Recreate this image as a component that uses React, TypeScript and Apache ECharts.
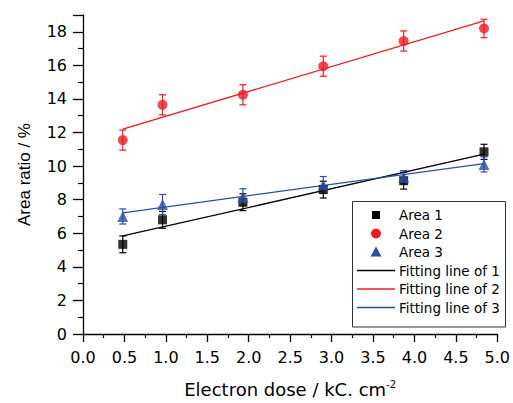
import React, { useEffect, useRef } from "react";
import * as echarts from "echarts";

const doses = [0.48, 0.96, 1.93, 2.9, 3.87, 4.84];
const area1 = [5.34, 6.8, 7.85, 8.6, 9.13, 10.85];
const area1Err = [0.5, 0.5, 0.5, 0.5, 0.5, 0.45];
const area2 = [11.55, 13.65, 14.25, 15.95, 17.45, 18.2];
const area2Err = [0.6, 0.6, 0.6, 0.6, 0.6, 0.55];
const area3 = [7.0, 7.71, 8.15, 8.88, 9.33, 10.1];
const area3Err = [0.45, 0.6, 0.5, 0.5, 0.4, 0.45];
const fitX = [0.48, 4.84];
const fit1 = [5.84, 10.71];
const fit2 = [12.2, 18.65];
const fit3 = [7.22, 10.15];

const legendNames = ["Area 1", "Area 2", "Area 3", "Fitting line of 1", "Fitting line of 2", "Fitting line of 3"];

const BLACK = "#000000";
const RED = "#ec1c24";
const BLUE = "#2a4ea6";
const FONT = "Liberation Sans, Arial, sans-serif";
const WIDE = "DejaVu Sans, sans-serif";

function errData(vals: number[], errs: number[]) {
  return doses.map((x, i) => [x, vals[i] - errs[i], vals[i] + errs[i]]);
}

function errSeries(vals: number[], errs: number[], color: string) {
  return {
    type: "custom",
    data: errData(vals, errs),
    encode: { x: 0, y: [1, 2] },
    z: 3,
    renderItem: (params: any, api: any) => {
      const lo = api.coord([api.value(0), api.value(1)]);
      const hi = api.coord([api.value(0), api.value(2)]);
      const w = 3.5;
      const style = { stroke: color, lineWidth: 1.2 };
      return {
        type: "group",
        children: [
          { type: "line", shape: { x1: lo[0], y1: lo[1], x2: hi[0], y2: hi[1] }, style },
          { type: "line", shape: { x1: lo[0] - w, y1: lo[1], x2: lo[0] + w, y2: lo[1] }, style },
          { type: "line", shape: { x1: hi[0] - w, y1: hi[1], x2: hi[0] + w, y2: hi[1] }, style },
        ],
      };
    },
  };
}

function pts(vals: number[]) {
  return doses.map((x, i) => [x, vals[i]]);
}
function fitPts(vals: number[]) {
  return fitX.map((x, i) => [x, vals[i]]);
}

export default function App() {
  const ref = useRef<HTMLDivElement>(null);
  useEffect(() => {
    if (!ref.current) return;
    const chart = echarts.init(ref.current, null, { renderer: "svg" });

    const lx = 376;
    const rowsY = [215, 233.5, 252, 270.5, 289, 307.5];
    const colors = [BLACK, RED, BLUE, BLACK, RED, BLUE];
    const legendChildren: any[] = [
      {
        type: "rect",
        shape: { x: 352.5, y: 201.5, width: 153, height: 125.5 },
        style: { fill: "#fff", stroke: "#333", lineWidth: 1 },
      },
    ];
    legendNames.forEach((name, i) => {
      const y = rowsY[i];
      if (i === 0) {
        legendChildren.push({ type: "rect", shape: { x: lx - 4, y: y - 4, width: 8, height: 8 }, style: { fill: BLACK } });
      } else if (i === 1) {
        legendChildren.push({ type: "circle", shape: { cx: lx, cy: y, r: 5 }, style: { fill: RED } });
      } else if (i === 2) {
        legendChildren.push({
          type: "polygon",
          shape: { points: [[lx, y - 5.5], [lx + 5.5, y + 4.5], [lx - 5.5, y + 4.5]] },
          style: { fill: BLUE },
        });
      } else {
        legendChildren.push({
          type: "line",
          shape: { x1: 357, y1: y, x2: 395, y2: y },
          style: { stroke: colors[i], lineWidth: 1.3 },
        });
      }
      legendChildren.push({
        type: "text",
        x: 399,
        y: y,
        style: { text: name, fill: "#000", font: `13.5px ${WIDE}`, textVerticalAlign: "middle", textAlign: "left" },
      });
    });

    chart.setOption({
      animation: false,
      backgroundColor: "#fff",
      textStyle: { fontFamily: FONT },
      grid: { left: 83, right: 14, top: 15, bottom: 67, containLabel: false },
      xAxis: {
        type: "value",
        min: 0,
        max: 5,
        interval: 0.5,
        name: "{a|Electron dose / kC. cm}{s|-2}",
        nameLocation: "middle",
        nameGap: 45,
        nameTextStyle: {
          rich: {
            a: { fontSize: 18, fontFamily: WIDE, color: "#000" },
            s: { fontSize: 10, fontFamily: WIDE, color: "#000", verticalAlign: "top", padding: [0, 0, 10, 0] },
          },
        },
        axisLine: { onZero: false, lineStyle: { color: "#000", width: 1.3 } },
        axisTick: { inside: false, length: 8, lineStyle: { color: "#000", width: 1.3 } },
        minorTick: { show: true, splitNumber: 2, length: 4, lineStyle: { color: "#000", width: 1.2 } },
        axisLabel: {
          color: "#000",
          fontSize: 16,
          fontFamily: WIDE,
          margin: 15,
          formatter: (v: number) => v.toFixed(1),
        },
        splitLine: { show: false },
      },
      yAxis: {
        type: "value",
        min: 0,
        max: 19,
        interval: 2,
        name: "Area ratio / %",
        nameLocation: "middle",
        nameGap: 50,
        nameTextStyle: { fontSize: 17, fontFamily: FONT, color: "#000" },
        axisLine: { onZero: false, lineStyle: { color: "#000", width: 1.3 } },
        axisTick: { inside: false, length: 10, lineStyle: { color: "#000", width: 1.3 } },
        minorTick: { show: true, splitNumber: 2, length: 5, lineStyle: { color: "#000", width: 1.2 } },
        axisLabel: {
          color: "#000",
          fontSize: 16,
          fontFamily: WIDE,
          margin: 16,
          showMaxLabel: false,
          formatter: (v: number) => (v > 18 ? "" : String(v)),
        },
        splitLine: { show: false },
      },
      series: [
        {
          name: "Fitting line of 1",
          type: "line",
          data: fitPts(fit1),
          symbol: "none",
          lineStyle: { color: BLACK, width: 1.3 },
          z: 2,
        },
        {
          name: "Fitting line of 2",
          type: "line",
          data: fitPts(fit2),
          symbol: "none",
          lineStyle: { color: RED, width: 1.3 },
          z: 2,
        },
        {
          name: "Fitting line of 3",
          type: "line",
          data: fitPts(fit3),
          symbol: "none",
          lineStyle: { color: BLUE, width: 1.3 },
          z: 2,
        },
        errSeries(area1, area1Err, BLACK),
        errSeries(area2, area2Err, RED),
        errSeries(area3, area3Err, BLUE),
        {
          name: "Area 1",
          type: "scatter",
          data: pts(area1),
          symbol: "rect",
          symbolSize: 9,
          itemStyle: { color: BLACK },
          z: 4,
        },
        {
          name: "Area 2",
          type: "scatter",
          data: pts(area2),
          symbol: "circle",
          symbolSize: 10,
          itemStyle: { color: RED },
          z: 4,
        },
        {
          name: "Area 3",
          type: "scatter",
          data: pts(area3),
          symbol: "triangle",
          symbolSize: 11,
          itemStyle: { color: BLUE },
          z: 4,
        },
      ],
      graphic: [{ type: "group", z: 100, children: legendChildren }],
    });
    return () => chart.dispose();
  }, []);
  return (
    <div
      ref={ref}
      style={{ position: "fixed", left: 0, top: 0, width: 513, height: 403 }}
    />
  );
}
